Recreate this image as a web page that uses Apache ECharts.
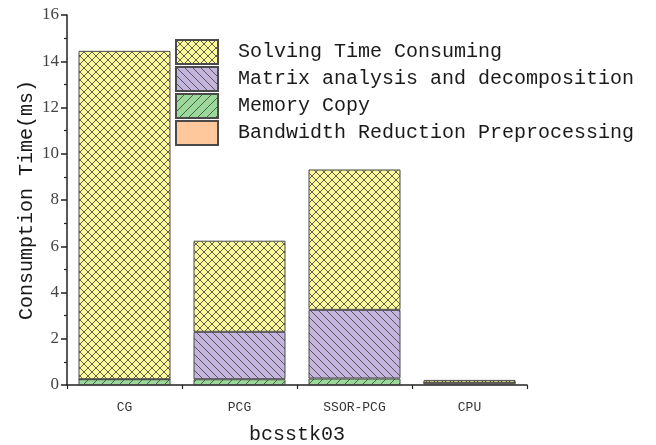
<!DOCTYPE html>
<html>
<head>
<meta charset="utf-8">
<script src="https://cdn.jsdelivr.net/npm/echarts@6/dist/echarts.min.js"></script>
<style>
  html, body { margin: 0; padding: 0; background: #fff; }
  #chart { width: 656px; height: 445px; }
</style>
</head>
<body>
<div id="chart"></div>
<script>
// Timing breakdown for the bcsstk03 matrix (ms)
const categories = ['CG', 'PCG', 'SSOR-PCG', 'CPU'];
const seriesNames = [
  'Solving Time Consuming',
  'Matrix analysis and decomposition',
  'Memory Copy',
  'Bandwidth Reduction Preprocessing'
];
const bandwidthReduction = [0, 0, 0, 0.1];
const memoryCopy = [0.25, 0.25, 0.28, 0];
const matrixAnalysis = [0, 2.05, 2.97, 0];
const solvingTime = [14.2, 3.94, 6.07, 0.12];
const yTicks = [0, 2, 4, 6, 8, 10, 12, 14, 16];

// Hatched fill tiles
function hatch(bg, dirs, step) {
  const c = document.createElement('canvas');
  c.width = step; c.height = step;
  const g = c.getContext('2d');
  g.fillStyle = bg;
  g.fillRect(0, 0, step, step);
  g.strokeStyle = 'rgba(70,70,60,0.85)';
  g.lineWidth = 1;
  dirs.forEach(function (d) {
    for (let k = -1; k <= 1; k++) {
      g.beginPath();
      if (d === '\\') {
        g.moveTo(k * step, 0);
        g.lineTo(k * step + step, step);
      } else {
        g.moveTo(k * step, step);
        g.lineTo(k * step + step, 0);
      }
      g.stroke();
    }
  });
  return { image: c, repeat: 'repeat' };
}

const fills = {
  solving: hatch('#fbf79c', ['\\', '/'], 8),
  matrix: hatch('#c3b5de', ['\\'], 8),
  memory: hatch('#9ad99a', ['/'], 9),
  bandwidth: '#ffc89c'
};

const border = { borderColor: '#4a4a4a', borderWidth: 1 };
const mono = '"Liberation Mono", "DejaVu Sans Mono", monospace';
const serif = '"Liberation Serif", "DejaVu Serif", serif';

function bar(name, data, fill) {
  return {
    name: name,
    type: 'bar',
    stack: 'total',
    barWidth: '80%',
    data: data,
    itemStyle: Object.assign({ color: fill }, border),
    emphasis: { disabled: true }
  };
}

const chart = echarts.init(document.getElementById('chart'), null, { renderer: 'canvas' });
chart.setOption({
  animation: false,
  backgroundColor: '#fff',
  grid: { left: 67, right: 129, top: 15, bottom: 60, containLabel: false, outerBoundsMode: 'none' },
  legend: {
    data: seriesNames,
    orient: 'vertical',
    left: 170,
    top: 34,
    itemWidth: 42,
    itemHeight: 24,
    itemGap: 1,
    icon: 'rect',
    textStyle: { fontFamily: mono, fontSize: 20, lineHeight: 22, color: '#1a1a1a', padding: [0, 0, 0, 15] }
  },
  xAxis: [{
    type: 'category',
    data: categories,
    name: 'bcsstk03',
    nameLocation: 'middle',
    nameGap: 40,
    nameMoveOverlap: false,
    nameTextStyle: { fontFamily: mono, fontSize: 20, color: '#1a1a1a' },
    axisLine: { lineStyle: { color: '#222', width: 1.5 } },
    axisTick: { alignWithLabel: true, length: 6, lineStyle: { color: '#222', width: 1.5 } },
    axisLabel: { fontFamily: mono, fontSize: 13, color: '#333', margin: 16 }
  }, {
    type: 'category',
    data: categories,
    position: 'bottom',
    axisLine: { show: false },
    axisTick: { show: true, length: 4, lineStyle: { color: '#222', width: 1.2 } },
    axisLabel: { show: false }
  }],
  yAxis: {
    type: 'value',
    min: 0,
    max: 16,
    interval: 2,
    name: 'Consumption Time(ms)',
    nameLocation: 'middle',
    nameGap: 30,
    nameMoveOverlap: false,
    nameTextStyle: { fontFamily: mono, fontSize: 20, color: '#1a1a1a' },
    axisLine: { show: true, lineStyle: { color: '#222', width: 1.5 } },
    axisTick: { show: true, length: 6, lineStyle: { color: '#222', width: 1.5 } },
    minorTick: { show: true, splitNumber: 2, length: 3, lineStyle: { color: '#222', width: 1.2 } },
    splitLine: { show: false },
    axisLabel: {
      fontFamily: serif, fontSize: 17, color: '#444', margin: 8,
      formatter: function (v) { return yTicks.indexOf(v) >= 0 ? String(v) : ''; }
    }
  },
  series: [
    bar(seriesNames[3], bandwidthReduction, fills.bandwidth),
    bar(seriesNames[2], memoryCopy, fills.memory),
    bar(seriesNames[1], matrixAnalysis, fills.matrix),
    bar(seriesNames[0], solvingTime, fills.solving)
  ]
});
</script>
</body>
</html>
